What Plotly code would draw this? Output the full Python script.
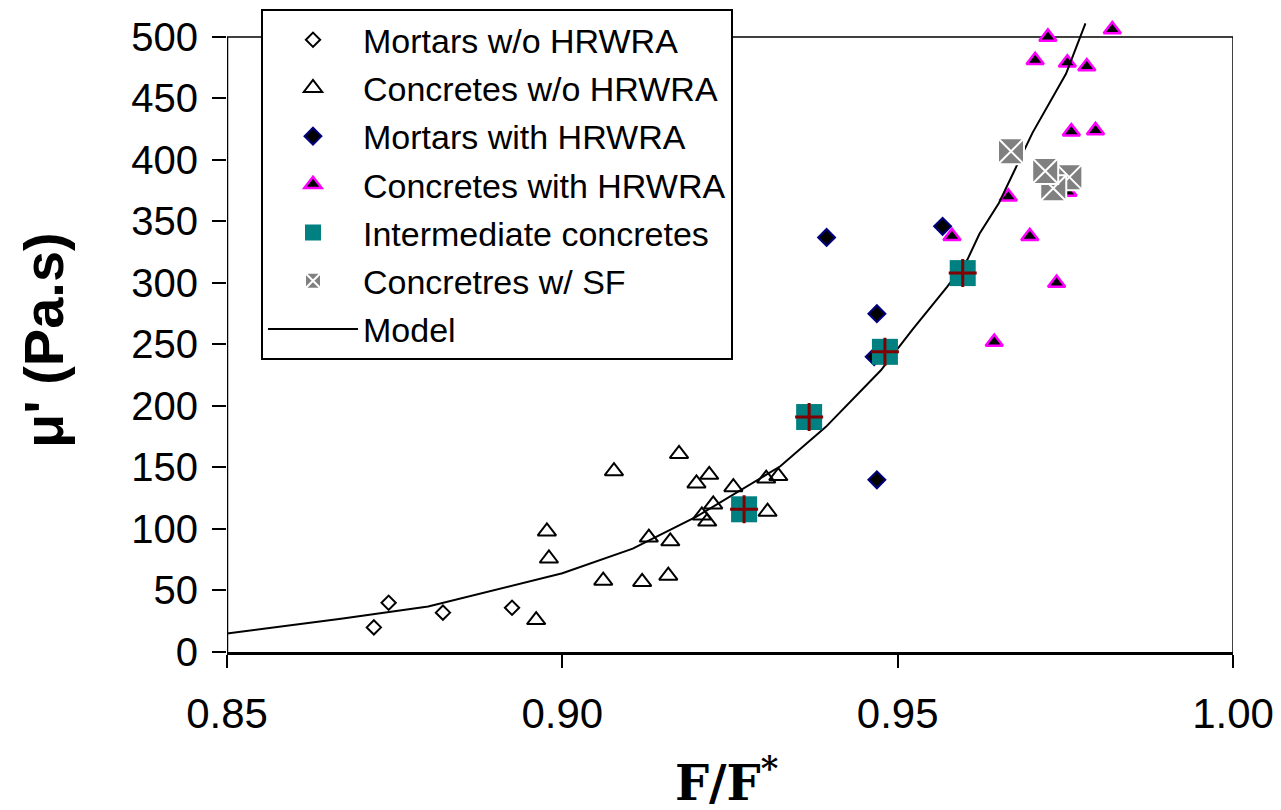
import plotly.graph_objects as go

# ---------------- data ----------------
MORT_WO_X = [0.8719, 0.8741, 0.8822, 0.8925]
MORT_WO_Y = [20, 40, 32, 36]

CONC_WO_X = [0.8961, 0.8977, 0.8980, 0.9077, 0.9061, 0.9119, 0.9129, 0.9161, 0.9158,
             0.9174, 0.9200, 0.9219, 0.9208, 0.9225, 0.9216, 0.9255, 0.9304, 0.9322, 0.9306]
CONC_WO_Y = [26, 98, 76, 147, 58, 57, 93, 90, 62,
             161, 137, 144, 111, 120, 106, 134, 141, 143, 114]

MORT_W_X = [0.9394, 0.9469, 0.9469, 0.9465, 0.9567]
MORT_W_Y = [337, 275, 140, 240, 346]

CONC_W_X = [0.9724, 0.9820, 0.9705, 0.9753, 0.9782, 0.9759, 0.9795, 0.9665, 0.9581,
            0.9697, 0.9737, 0.9754, 0.9644]
CONC_W_Y = [500, 506, 481, 479, 476, 423, 424, 370, 338,
            338, 300, 374, 252]

INTER_X = [0.9271, 0.9368, 0.9481, 0.9597]
INTER_Y = [116, 191, 244, 308]

SF_X = [0.9756, 0.9732, 0.9720, 0.9669]
SF_Y = [386, 377, 391, 407]

MODEL_X = [0.850, 0.867, 0.880, 0.900, 0.9105, 0.920, 0.9325, 0.9393, 0.9475, 0.9522,
           0.9574, 0.9604, 0.9622, 0.9651, 0.9701, 0.9751, 0.978]
MODEL_Y = [15, 27, 37, 64, 84, 110, 151, 183, 229, 262,
           297, 319, 340, 365, 422, 470, 511]

X_TICKS = [0.85, 0.90, 0.95, 1.00]
X_TICKTEXT = ["0.85", "0.90", "0.95", "1.00"]
Y_TICKS = [0, 50, 100, 150, 200, 250, 300, 350, 400, 450, 500]
X_RANGE = [0.85, 1.00]
Y_FRAME_TOP = 500
Y_RANGE = [0, 530]

FONT = "Liberation Sans, Arial, sans-serif"

fig = go.Figure()

fig.add_trace(go.Scatter(
    x=MORT_WO_X, y=MORT_WO_Y, mode="markers", name="Mortars w/o HRWRA",
    legendgroup="g1", legendrank=1, cliponaxis=False,
    marker=dict(symbol="diamond-open", size=11, color="black", line=dict(width=2, color="black"))))

fig.add_trace(go.Scatter(
    x=CONC_WO_X, y=CONC_WO_Y, mode="markers", name="Concretes w/o HRWRA",
    legendgroup="g2", legendrank=2, cliponaxis=False,
    marker=dict(symbol="triangle-up-open", size=16, color="black", line=dict(width=2, color="black"))))

fig.add_trace(go.Scatter(
    x=MORT_W_X, y=MORT_W_Y, mode="markers", name="Mortars with HRWRA",
    legendgroup="g3", legendrank=3, cliponaxis=False,
    marker=dict(symbol="diamond", size=13, color="black", line=dict(width=2, color="#000080"))))

fig.add_trace(go.Scatter(
    x=CONC_W_X, y=CONC_W_Y, mode="markers", name="Concretes with HRWRA",
    legendgroup="g4", legendrank=4, cliponaxis=False,
    marker=dict(symbol="triangle-up", size=15, color="black", line=dict(width=2.5, color="#FF00FF"))))

fig.add_trace(go.Scatter(
    x=MODEL_X, y=MODEL_Y, mode="lines", name="Model",
    legendgroup="g7", legendrank=7,
    line=dict(color="black", width=2)))

fig.add_trace(go.Scatter(
    x=INTER_X, y=INTER_Y, mode="markers", name="Intermediate concretes",
    legendgroup="g5", legendrank=5, cliponaxis=False,
    marker=dict(symbol="square", size=26, color="#008080", line=dict(width=0))))

fig.add_trace(go.Scatter(
    x=INTER_X, y=INTER_Y, mode="markers", name="Intermediate concretes",
    legendgroup="g5", showlegend=False, cliponaxis=False, hoverinfo="skip",
    marker=dict(symbol="cross-thin", size=20, color="#800000", line=dict(width=3, color="#800000"))))

fig.add_trace(go.Scatter(
    x=SF_X, y=SF_Y, mode="markers", name="Concretres w/ SF",
    legendgroup="g6", legendrank=6, cliponaxis=False,
    marker=dict(symbol="square-x", size=26, color="#808080", line=dict(width=2, color="white"))))

# plot frame (left axis, top and right borders)
frame = dict(type="line", xref="x", yref="y", layer="below")
fig.add_shape(**frame, x0=X_RANGE[0], x1=X_RANGE[0], y0=0, y1=Y_FRAME_TOP, line=dict(color="black", width=2.5))
fig.add_shape(**frame, x0=X_RANGE[0], x1=X_RANGE[1], y0=Y_FRAME_TOP, y1=Y_FRAME_TOP, line=dict(color="black", width=1.5))
fig.add_shape(**frame, x0=X_RANGE[1], x1=X_RANGE[1], y0=0, y1=Y_FRAME_TOP, line=dict(color="black", width=1.5))

fig.update_xaxes(
    range=X_RANGE, tickvals=X_TICKS, ticktext=X_TICKTEXT,
    ticks="outside", ticklen=13, tickwidth=1.5, tickcolor="black",
    showline=True, linewidth=3, linecolor="black",
    showgrid=False, zeroline=False,
    tickfont=dict(family=FONT, size=42, color="black"), ticklabelstandoff=10)

fig.update_yaxes(
    range=Y_RANGE, tickvals=Y_TICKS,
    ticks="outside", ticklen=14, tickwidth=2, tickcolor="black",
    showline=False, showgrid=False, zeroline=False,
    tickfont=dict(family=FONT, size=40, color="black"), ticklabelstandoff=6)

fig.add_annotation(
    text="μ' (Pa.s)", xref="paper", yref="paper", x=-0.183, y=0.4785,
    textangle=-90, showarrow=False, xanchor="center", yanchor="middle",
    font=dict(family=FONT, size=56, color="black", weight="bold"))

fig.add_annotation(
    text="F/F<sup>*</sup>", xref="paper", yref="paper", x=0.497, y=-0.196,
    showarrow=False, xanchor="center", yanchor="middle",
    font=dict(family="DejaVu Serif, serif", size=48, color="black", weight="bold"))

fig.update_layout(
    width=1281, height=810,
    margin=dict(l=227, r=48, t=0, b=158),
    plot_bgcolor="white", paper_bgcolor="white",
    showlegend=True,
    legend=dict(
        x=0.0338, y=0.986, xanchor="left", yanchor="top",
        bgcolor="white", bordercolor="black", borderwidth=2,
        font=dict(family=FONT, size=34, color="black"),
        itemwidth=90, tracegroupgap=1, traceorder="grouped"),
)

fig.write_html("out.html", config={"displayModeBar": False},
               post_script="document.body.style.margin='0px';")
